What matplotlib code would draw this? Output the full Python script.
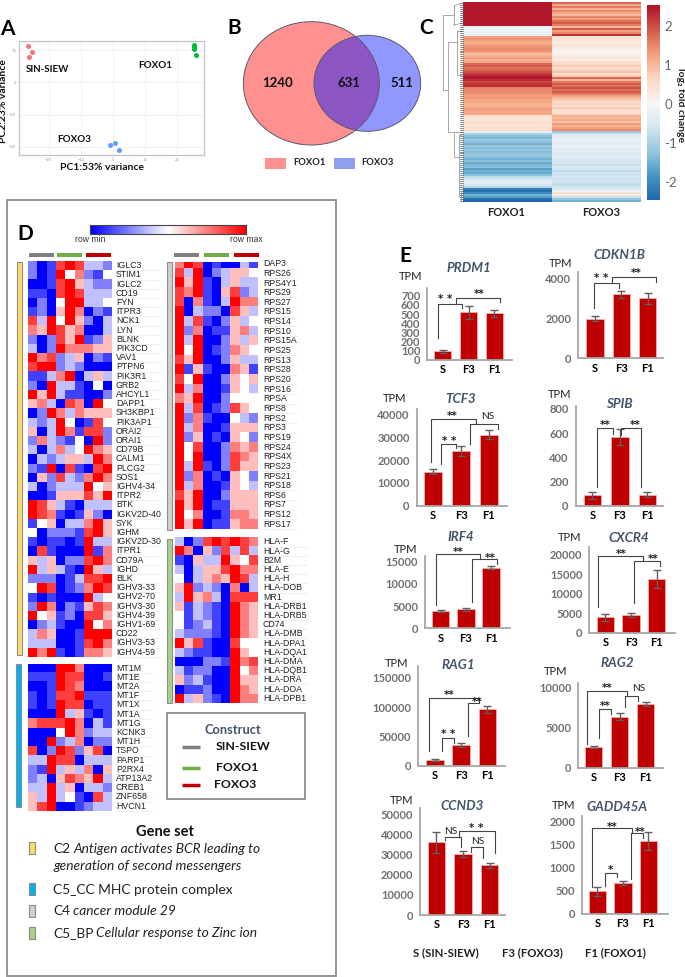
import numpy as np
from matplotlib import pyplot as plt
from matplotlib.patches import Ellipse, Rectangle
from matplotlib.colors import LinearSegmentedColormap

W, H = 685, 977
plt.rcParams["font.family"] = ["Lato", "DejaVu Sans"]

# ---------------- data: A (PCA) ----------------
PCA_SIN_X = [-26.5, -25.2, -26.0]
PCA_SIN_Y = [11.2, 9.5, 7.8]
PCA_F1_X = [25.2, 25.3, 25.3, 25.7]
PCA_F1_Y = [11.5, 11.0, 10.4, 8.5]
PCA_F3_X = [-0.8, 0.5, 2.0]
PCA_F3_Y = [-19.3, -18.9, -21.0]

# ---------------- data: B (venn) ----------------
VENN_COUNTS = ["1240", "631", "511"]

# ---------------- data: C (log2 fold change bands) ----------------
C_FOXO1 = [2.5] * 12 + [-0.2, -0.1, -0.1, -0.2, -0.3] + \
    [1.3, 1.4, 1.2, 1.1, 1.3, 1.4, 1.5, 1.4, 1.2, 1.0, 1.1, 1.3, 1.1, 1.2] + \
    [1.8, 1.9, 1.7, 1.8, 2.0, 2.2, 2.4, 2.5, 2.3, 2.1, 2.2, 2.3] + \
    [1.6, 1.5, 1.5, 1.4, 1.3, 1.3, 1.2, 1.2, 1.1, 1.1, 1.2, 1.3, 1.2, 1.2] + \
    [0.5, 0.4, 0.4, 0.5, 0.4, 0.4, 0.5, 0.6] + [-0.3, -1.0] + \
    [-1.3, -1.4, -1.2, -1.3, -1.5, -1.2, -1.3, -1.2, -1.4, -1.3, -1.2, -1.3, -1.5, -1.3, -1.6, -1.4, -1.3, -1.7, -1.5, -1.6, -1.3] + \
    [-0.8, -0.6, -0.4, -0.3, -0.5, -0.9] + [-2.2, -2.4, -2.0, -1.5, -1.7, -2.4, -2.5]
C_FOXO3 = [1.8, 1.2, 1.6, 1.1, 1.5, 1.2, 1.0, 1.5, 1.3, 1.7, 1.9, 1.6] + \
    [1.0, 1.9, 1.3, 1.5, 2.3] + \
    [0.4, 0.4, 0.3, 0.3, 0.4, 0.3, 0.2, 0.1, 0.05, 0.1, 0.3, 0.4, 0.3, 0.5] + \
    [0.6, 0.8, 0.5, 0.7, 0.9, 0.5, 0.8, 1.8, 1.0, 1.6, 1.9, 1.7] + \
    [2.0, 1.7, 1.9, 1.6, 1.3, 1.0, 0.8, 0.6, 0.7, 0.5, 0.8, 0.6, 0.4, 0.7] + \
    [1.1, 1.0, 1.2, 0.9, 1.3, 1.1, 1.3, 1.5] + [-1.2, -0.6] + \
    [-0.3, -0.3, -0.2, -0.3, -0.4, -0.2, -0.3, -0.4, -0.3, -0.5, -0.4, -0.3, -0.5, -0.6, -0.5, -0.7, -0.5, -0.6, -0.8, -0.6, -0.7] + \
    [-0.6, -0.7, -0.6, -0.7, -0.8, -0.6] + [-0.5, -0.1, 0.5, 0.3, -0.7, -1.2, -1.5]

# ---------------- data: D (row scaled expression, 0 = row min, 8 = row max) ----------------
BCR_GENES = ["IGLC3", "STIM1", "IGLC2", "CD19", "FYN", "ITPR3", "NCK1", "LYN", "BLNK", "PIK3CD", "VAV1",
             "PTPN6", "PIK3R1", "GRB2", "AHCYL1", "DAPP1", "SH3KBP1", "PIK3AP1", "ORAI2", "ORAI1", "CD79B",
             "CALM1", "PLCG2", "SOS1", "IGHV4-34", "ITPR2", "BTK", "IGKV2D-40", "SYK", "IGHM", "IGKV2D-30",
             "ITPR1", "CD79A", "IGHD", "BLK", "IGHV3-33", "IGHV2-70", "IGHV3-30", "IGHV4-39", "IGHV1-69",
             "CD22", "IGHV3-53", "IGHV4-59"]
BCR_ROWS = ["201787332", "201846214", "001785322", "110787333", "020488334", "120586021", "738485203",
            "658756003", "202758125", "302866655", "867235021", "788232000", "113680353", "208331040",
            "858311002", "563076084", "028636555", "323840174", "503861772", "263214082", "303634865",
            "032355386", "218071078", "052732686", "302333845", "001555758", "875310333", "876101520",
            "145033685", "402221785", "101101833", "071000816", "535022786", "835310853", "222013778",
            "487012687", "101000834", "286021576", "845120775", "023100846", "365001888", "333001786",
            "868101665"]

MT_GENES = ["MT1M", "MT1E", "MT2A", "MT1F", "MT1X", "MT1A", "MT1G", "KCNK3", "MT1H", "TSPO", "PARP1",
            "P2RX4", "ATP13A2", "CREB1", "ZNF658", "HVCN1"]
MT_ROWS = ["000886000", "111877001", "001876000", "101778111", "101877011", "000835101", "677786031",
           "000486233", "008236022", "702872570", "338770333", "218353605", "230576583", "338350332",
           "538341073", "578001233"]

RPS_GENES = ["DAP3", "RPS26", "RPS4Y1", "RPS29", "RPS27", "RPS15", "RPS14", "RPS10", "RPS15A", "RPS25",
             "RPS13", "RPS28", "RPS20", "RPS16", "RPSA", "RPS8", "RPS2", "RPS3", "RPS19", "RPS24", "RPS4X",
             "RPS23", "RPS21", "RPS18", "RPS6", "RPS7", "RPS12", "RPS17"]
RPS_ROWS = ["687010031", "738023554", "858103533", "768105723", "706103866", "803220753", "837102534",
            "826011563", "838002535", "848012654", "758002533", "815100651", "748002545", "836001543",
            "658002444", "837012754", "826100432", "836001555", "825010542", "847002656", "848002765",
            "838102755", "826010542", "836001543", "758002555", "858011555", "846001665", "858011566"]

HLA_GENES = ["HLA-F", "HLA-G", "B2M", "HLA-E", "HLA-H", "HLA-DOB", "MR1", "HLA-DRB1", "HLA-DRB5", "CD74",
             "HLA-DMB", "HLA-DPA1", "HLA-DQA1", "HLA-DMA", "HLA-DQB1", "HLA-DRA", "HLA-DOA", "HLA-DPB1"]
HLA_ROWS = ["302787876", "860527373", "105338547", "303557866", "403565873", "582320603", "385630777",
            "513210865", "413210865", "412310865", "322210865", "857100744", "321100854", "000221867",
            "312200846", "523100855", "011200865", "835210866"]

# ---------------- data: E (TPM bars) ----------------
BAR_CATS = ["S", "F3", "F1"]
BAR_GENES = ["PRDM1", "CDKN1B", "TCF3", "SPIB", "IRF4", "CXCR4", "RAG1", "RAG2", "CCND3", "GADD45A"]
BAR_VALUES = [[95, 518, 507], [1980, 3200, 3010], [15000, 24100, 31200], [90, 568, 93], [3900, 4280, 13650],
              [3960, 4480, 13675], [9000, 34800, 96300], [2600, 6370, 7950], [36200, 30200, 24700], [490, 680, 1580]]
BAR_ERRORS = [[15, 70, 35], [130, 170, 280], [1000, 2200, 2000], [29, 65, 22], [300, 400, 300],
              [900, 500, 2350], [1700, 3700, 5700], [125, 420, 230], [5100, 1500, 1300], [90, 45, 190]]
BAR_TICKS = [list(range(0, 701, 100)), [0, 2000, 4000], [0, 10000, 20000, 30000, 40000], [0, 200, 400, 600, 800],
             [0, 5000, 10000, 15000], [0, 5000, 10000, 15000, 20000], [0, 50000, 100000, 150000], [0, 5000, 10000],
             [0, 10000, 20000, 30000, 40000, 50000], [0, 500, 1000, 1500, 2000]]
BAR_YMAX = [779, 4333, 42647, 824, 16275, 22051, 170467, 10540, 53156, 2123]

# layout, in 3x pixels from a panel group origin: origin, x left, x right, y top, y base, first bar, spacing
BAR_LAYOUT = [
    ((355, 225), 217, 472, 190, 405, 263, 77.5),
    ((355, 225), 670, 925, 140, 400, 720, 79),
    ((355, 225), 185, 455, 552, 842, 234, 84),
    ((355, 225), 662, 925, 543, 843, 712, 82.5),
    ((355, 520), 210, 465, 108, 325, 257, 75.5),
    ((355, 520), 703, 960, 80, 338, 751, 77),
    ((355, 520), 190, 450, 438, 737, 240, 78.5),
    ((355, 520), 670, 925, 490, 743, 716, 78),
    ((355, 760), 196, 450, 145, 465, 244, 80),
    ((355, 760), 682, 938, 168, 462, 727, 76.5),
]
BAR_TITLE_POS = [(343, 128), (793, 90), (318, 523), (793, 538), (316, 50), (822, 55), (310, 436), (788, 430), (321, 138), (785, 140)]
BAR_TPM_POS = [(168, 155), (617, 115), (118, 521), (615, 508), (153, 88), (645, 53), (124, 430), (603, 455), (139, 122), (625, 137)]

BRACKETS = [
    ((355, 225), [(248, 340), (248, 237), (320, 237), (320, 250)]),
    ((355, 225), [(302, 237), (302, 220), (435, 220), (435, 232)]),
    ((355, 225), [(717, 248), (717, 173), (792, 173), (792, 190)]),
    ((355, 225), [(770, 173), (770, 156), (903, 156), (903, 170)]),
    ((355, 225), [(229, 712), (229, 583), (362, 583), (362, 597)]),
    ((355, 225), [(257, 716), (257, 657), (304, 657), (304, 670)]),
    ((355, 225), [(344, 657), (344, 598), (429, 598), (429, 612)]),
    ((355, 225), [(725, 785), (725, 610), (775, 610), (775, 628)]),
    ((355, 225), [(797, 630), (797, 610), (859, 610), (859, 787)]),
    ((355, 520), [(242, 255), (242, 102), (375, 102), (375, 115)]),
    ((355, 520), [(350, 245), (350, 118), (425, 118), (425, 133)]),
    ((355, 520), [(730, 260), (730, 107), (865, 107), (865, 120)]),
    ((355, 520), [(838, 250), (838, 122), (915, 122), (915, 138)]),
    ((355, 520), [(222, 693), (222, 535), (372, 535), (372, 548)]),
    ((355, 520), [(260, 693), (260, 655), (297, 655), (297, 668)]),
    ((355, 520), [(338, 648), (338, 550), (372, 550)]),
    ((355, 520), [(695, 672), (695, 512), (815, 512), (815, 527)]),
    ((355, 520), [(733, 655), (733, 566), (768, 566), (768, 582)]),
    ((355, 520), [(811, 562), (811, 527), (848, 527), (848, 542)]),
    ((355, 760), [(270, 240), (270, 230), (317, 230), (317, 262)]),
    ((355, 760), [(313, 230), (313, 212), (421, 212), (421, 278)]),
    ((355, 760), [(348, 275), (348, 261), (385, 261), (385, 295)]),
    ((355, 760), [(711, 380), (711, 205), (832, 205), (832, 218)]),
    ((355, 760), [(750, 378), (750, 338), (786, 338), (786, 352)]),
    ((355, 760), [(827, 358), (827, 220), (864, 220), (864, 235)]),
]
SIG_LABELS = [
    ((355, 225), 270, 217, "* *"), ((355, 225), 373, 200, "**"), ((355, 225), 740, 152, "* *"), ((355, 225), 843, 137, "**"),
    ((355, 225), 292, 568, "**"), ((355, 225), 283, 642, "* *"), ((355, 225), 398, 575, "NS"),
    ((355, 225), 752, 595, "**"), ((355, 225), 840, 595, "**"),
    ((355, 520), 309, 90, "**"), ((355, 520), 406, 107, "**"), ((355, 520), 798, 95, "**"), ((355, 520), 895, 112, "**"),
    ((355, 520), 284, 520, "**"), ((355, 520), 280, 637, "* *"), ((355, 520), 367, 540, "**"),
    ((355, 520), 757, 497, "**"), ((355, 520), 751, 552, "**"), ((355, 520), 850, 505, "NS"),
    ((355, 760), 287, 213, "NS"), ((355, 760), 365, 197, "* *"), ((355, 760), 367, 243, "NS"),
    ((355, 760), 773, 194, "**"), ((355, 760), 767, 324, "*"), ((355, 760), 856, 210, "**"),
]

GRAY, GREEN, RED = "#7f7f7f", "#70ad47", "#c00000"
SLATE = "#44546a"


def px_axes(x0, y0, x1, y1):
    return fig.add_axes([x0 / W, 1 - y1 / H, (x1 - x0) / W, (y1 - y0) / H])


def zoomed(origin, x, y):
    return origin[0] + x / 3, origin[1] + y / 3


def heat_block(rows, genes, x0, x1, top, row_h, label_x, sep_end, clip=0):
    data = np.array([[int(c) for c in r] for r in rows])
    n = len(rows)
    ax = px_axes(x0, top + clip, x1, top + n * row_h)
    ax.imshow(data, cmap="bwr", vmin=0, vmax=8, aspect="auto", interpolation="nearest")
    ax.set_ylim(n - 0.5, -0.5 + clip / row_h)
    ax.axis("off")
    for i, g in enumerate(genes):
        yc = top + (i + 0.5) * row_h
        ov.text(label_x, yc, g, family="Liberation Sans", fontsize=6.3, color="#222222", va="center", ha="left")
        ov.plot([label_x, sep_end], [yc + row_h / 2, yc + row_h / 2], color="#e8e8e8", lw=0.5)


def mixed_text(x, y, plain, italic):
    t = ov.text(x, y, plain, fontsize=9.9, color="#222222", va="center", ha="left")
    if italic:
        ext = t.get_window_extent(renderer)
        ov.text(ext.x1 + 3, y, italic, fontsize=9.9, color="#222222", style="italic", va="center", ha="left")


fig = plt.figure(figsize=(W / 100, H / 100), dpi=100)
renderer = fig.canvas.get_renderer()
ov = fig.add_axes([0, 0, 1, 1], zorder=10)
ov.set_xlim(0, W)
ov.set_ylim(H, 0)
ov.axis("off")
ov.patch.set_alpha(0)

for letter, lx, ly in [("A", 7, 29), ("B", 234, 28), ("C", 426, 28), ("D", 25, 234), ("E", 405, 256)]:
    ov.text(lx, ly, letter, fontsize=15, fontweight="bold", ha="center", va="center", color="black")

# ---------------- A ----------------
ax = px_axes(19, 41, 204, 155)
ax.scatter(PCA_SIN_X, PCA_SIN_Y, s=13, color="#F8766D", linewidths=0)
ax.scatter(PCA_F1_X, PCA_F1_Y, s=13, color="#00BA38", linewidths=0)
ax.scatter(PCA_F3_X, PCA_F3_Y, s=13, color="#619CFF", linewidths=0)
ax.set_xlim(-29.2, 28.3)
ax.set_ylim(-22.5, 12.8)
ax.set_xticks([-20, -10, 0, 10, 20])
ax.set_yticks([-20, -10, 0, 10])
ax.grid(True, color="#ececec", lw=0.5)
ax.set_axisbelow(True)
ax.tick_params(labelsize=3, length=1, width=0.4, pad=1, colors="#999999")
for s in ax.spines.values():
    s.set_color("#c4c4c4")
    s.set_linewidth(0.9)
ov.text(47, 70, "SIN-SIEW", fontsize=7, fontweight="bold", ha="center", va="center", color="#111111")
ov.text(155, 65, "FOXO1", fontsize=7.1, fontweight="bold", ha="center", va="center", color="#111111")
ov.text(74, 140, "FOXO3", fontsize=7.1, fontweight="bold", ha="center", va="center", color="#111111")
ov.text(102, 168, "PC1:53% variance", fontsize=7.5, fontweight="bold", ha="center", va="center", color="#111111")
ov.text(4, 101, "PC2:23% variance", fontsize=7.5, fontweight="bold", ha="center", va="center", rotation=90, color="#111111")

# ---------------- B ----------------
OB = (215, 0)
c1 = zoomed(OB, 289, 250)
c3 = zoomed(OB, 457, 250)
e3 = Ellipse(c3, 320 / 3, 288 / 3, facecolor="#9097ff", edgecolor="none", zorder=1)
e1 = Ellipse(c1, 408 / 3, 370 / 3, facecolor="#ff9090", edgecolor="none", zorder=2)
ov.add_patch(e3)
ov.add_patch(e1)
overlap = Ellipse(c3, 320 / 3, 288 / 3, facecolor="#8c55c4", edgecolor="none", zorder=3)
ov.add_patch(overlap)
overlap.set_clip_path(e1)
ov.add_patch(Ellipse(c1, 408 / 3, 370 / 3, facecolor="none", edgecolor="#5a5a6a", lw=0.7, zorder=4))
ov.add_patch(Ellipse(c3, 320 / 3, 288 / 3, facecolor="none", edgecolor="#5a5a6a", lw=0.7, zorder=4))
for count, zx in zip(VENN_COUNTS, [189, 402, 561]):
    x, y = zoomed(OB, zx, 248)
    ov.text(x, y, count, fontsize=9.5, fontweight="bold", ha="center", va="center", color="#111111", zorder=5)
ov.add_patch(Rectangle(zoomed(OB, 150, 473), 21, 11, facecolor="#ff9090", edgecolor="none"))
ov.add_patch(Rectangle(zoomed(OB, 358, 473), 21, 11, facecolor="#8f9ff0", edgecolor="none"))
ov.text(*zoomed(OB, 236, 488), "FOXO1", fontsize=6.8, fontweight="bold", ha="left", va="center", color="#222222")
ov.text(*zoomed(OB, 440, 488), "FOXO3", fontsize=6.8, fontweight="bold", ha="left", va="center", color="#222222")

# ---------------- C ----------------
cmap_c = LinearSegmentedColormap.from_list(
    "fc", ["#2166ac", "#4393c3", "#92c5de", "#d1e5f0", "#f7f7f7", "#fddbc7", "#f4a582", "#d6604d", "#b2182b"])
ax = px_axes(463, 2, 641, 202)
ax.imshow(np.array([C_FOXO1, C_FOXO3]).T, cmap=cmap_c, vmin=-2.5, vmax=2.5, aspect="auto", interpolation="nearest")
ax.axis("off")
cax = px_axes(647, 5, 660, 200)
grad = np.linspace(2.55, -2.45, 200).reshape(-1, 1)
cax.imshow(grad, cmap=cmap_c, vmin=-2.5, vmax=2.5, aspect="auto", extent=[0, 1, -2.45, 2.55])
cax.set_xticks([])
cax.yaxis.tick_right()
cax.set_yticks([-2, -1, 0, 1, 2], ["-2", "-1", "0", "1", "2"])
cax.tick_params(length=0, labelsize=9.5, labelcolor="#666666", pad=3)
for s in cax.spines.values():
    s.set_visible(False)
ov.text(681, 105, "log₂ fold change", fontsize=7.5, fontweight="bold", rotation=270, ha="center", va="center", color="#222222")
ov.text(506, 213, "FOXO1", fontsize=8, fontweight="bold", ha="center", va="center", color="#222222")
ov.text(601, 213, "FOXO3", fontsize=8, fontweight="bold", ha="center", va="center", color="#222222")

# dendrogram of panel C
OC = (410, 0)
DENDRO = [
    [(132, 18), (132, 45), (98, 45), (98, 270), (115, 270)],
    [(132, 18), (153, 10)], [(132, 75), (153, 70)], [(132, 18), (132, 75)],
    [(140, 127), (115, 127), (115, 395), (132, 395)],
    [(140, 92), (140, 225), (153, 225)], [(140, 92), (153, 92)],
    [(132, 395), (132, 470), (146, 470)], [(132, 395), (153, 395)],
    [(146, 405), (146, 560), (153, 560)], [(146, 405), (153, 405)],
    [(153, 575), (153, 600)], [(146, 560), (146, 590), (153, 590)],
]
for seg in DENDRO:
    pts = [zoomed(OC, x, y) for x, y in seg]
    ov.plot([p[0] for p in pts], [p[1] for p in pts], color="#9a9a9a", lw=0.6, zorder=2)
for i in range(len(C_FOXO1)):
    y = 2 + (i + 0.5) * 200 / len(C_FOXO1)
    ov.plot([460.5, 463], [y, y], color="#555555", lw=0.5)

# ---------------- D ----------------
ov.add_patch(Rectangle((7, 200), 329, 776, facecolor="none", edgecolor="#8c8c8c", lw=1.3))
bar_ax = px_axes(90, 224.5, 246, 234)
bar_ax.imshow(np.linspace(0, 1, 256).reshape(1, -1), cmap="bwr", aspect="auto")
bar_ax.set_xticks([])
bar_ax.set_yticks([])
for s in bar_ax.spines.values():
    s.set_color("#444444")
    s.set_linewidth(0.8)
ov.text(90, 240, "row min", family="Liberation Sans", fontsize=6.2, ha="center", va="center", color="#333333")
ov.text(246, 240, "row max", family="Liberation Sans", fontsize=6.2, ha="center", va="center", color="#333333")
for x0, col in [(29, GRAY), (57.5, GREEN), (86, RED), (174, GRAY), (204, GREEN), (234, RED)]:
    ov.add_patch(Rectangle((x0, 252.5), 25, 4, facecolor=col, edgecolor="none"))

heat_block(BCR_ROWS, BCR_GENES, 28, 111.5, 261.1, 9.2, 116, 160)
heat_block(MT_ROWS, MT_GENES, 27.5, 111, 663.5, 9.2, 116, 152)
heat_block(RPS_ROWS, RPS_GENES, 175, 258, 258.9, 9.65, 263, 297, clip=3)
heat_block(HLA_ROWS, HLA_GENES, 175, 258, 537.4, 9.19, 263, 307)

for x0, y0, x1, y1, col in [(17, 262, 22, 655, "#ffd966"), (16.5, 664, 21.5, 807, "#00b0f0"),
                            (167, 262, 172, 530, "#d0cece"), (167, 539, 172, 703, "#a9d18e")]:
    ov.add_patch(Rectangle((x0, y0), x1 - x0, y1 - y0, facecolor=col, edgecolor="#8c8c8c", lw=0.8))

ov.add_patch(Rectangle((167, 713), 138, 86, facecolor="white", edgecolor="#8c8c8c", lw=1.3))
ov.text(233, 730, "Construct", fontsize=9.3, fontweight="bold", color=SLATE, ha="center", va="center")
for y, col, name, tx in [(747, GRAY, "SIN-SIEW", 216), (768, GREEN, "FOXO1", 216), (785, RED, "FOXO3", 214)]:
    ov.plot([182, 200], [y, y], color=col, lw=2.5, solid_capstyle="butt")
    ov.text(tx, y - 0.5, name, fontsize=8.8, fontweight="bold", color="#111111", ha="left", va="center")

ov.text(165, 832, "Gene set", fontsize=10.5, fontweight="bold", color="#111111", ha="center", va="center")
for y0, col in [(842, "#ffd966"), (883, "#00b0f0"), (905, "#d0cece"), (927, "#a9d18e")]:
    ov.add_patch(Rectangle((29, y0), 6.5, 12, facecolor=col, edgecolor="#8c8c8c", lw=0.8))
mixed_text(53, 849, "C2", "Antigen activates BCR leading to")
ov.text(53, 866, "generation of second messengers", fontsize=9.9, style="italic", color="#222222", va="center", ha="left")
mixed_text(53, 890, "C5_CC MHC protein complex", "")
mixed_text(53, 911, "C4", "cancer module 29")
mixed_text(53, 933, "C5_BP", "Cellular response to Zinc ion")

# ---------------- E ----------------
for i, gene in enumerate(BAR_GENES):
    origin, xl, xr, ytop, ybase, first, step = BAR_LAYOUT[i]
    x0, y0 = zoomed(origin, xl, ytop)
    x1, y1 = zoomed(origin, xr, ybase)
    ax = px_axes(x0, y0, x1, y1)
    ax.patch.set_alpha(0)
    ax.bar(range(3), BAR_VALUES[i], width=52 / step, color=RED, edgecolor="#f2b8b8", linewidth=0.5)
    ax.errorbar(range(3), BAR_VALUES[i], yerr=BAR_ERRORS[i], fmt="none", ecolor="#5f5f5f", elinewidth=1.0, capsize=2.6, capthick=1.0)
    ax.set_xlim((xl - first) / step, (xr - first) / step)
    ax.set_ylim(0, BAR_YMAX[i])
    ax.set_xticks(range(3), BAR_CATS)
    ax.set_yticks(BAR_TICKS[i])
    ax.tick_params(axis="x", length=0, labelsize=8, pad=3)
    ax.tick_params(axis="y", length=0, labelsize=8, pad=5, labelcolor="#6f6f6f")
    for lab in ax.get_xticklabels() + ax.get_yticklabels():
        lab.set_fontweight("bold")
    ax.spines["top"].set_visible(False)
    ax.spines["right"].set_visible(False)
    ax.spines["left"].set_color("#a6a6a6")
    ax.spines["bottom"].set_color("#a6a6a6")
    ax.spines["left"].set_linewidth(1.3)
    ax.spines["bottom"].set_linewidth(1.3)
    tx, ty = zoomed(origin, *BAR_TITLE_POS[i])
    ov.text(tx, ty, gene, fontsize=9.6, fontweight="bold", style="italic", color=SLATE, ha="center", va="center")
    tx, ty = zoomed(origin, *BAR_TPM_POS[i])
    ov.text(tx, ty, "TPM", fontsize=8, color="#222222", ha="center", va="center")

for origin, seg in BRACKETS:
    pts = [zoomed(origin, x, y) for x, y in seg]
    ov.plot([p[0] for p in pts], [p[1] for p in pts], color="#444444", lw=0.8, solid_joinstyle="round")
for origin, zx, zy, label in SIG_LABELS:
    x, y = zoomed(origin, zx, zy)
    if "*" in label:
        ov.text(x, y + 2, label, family="DejaVu Sans", fontsize=7.5, color="#222222", ha="center", va="center", fontweight="bold")
    else:
        ov.text(x, y, label, fontsize=7.3, color="#222222", ha="center", va="center")

for lx, label in [(173, "S (SIN-SIEW)"), (440, "F3 (FOXO3)"), (690, "F1 (FOXO1)")]:
    x, y = zoomed((355, 760), lx, 577)
    ov.text(x, y, label, fontsize=8.2, fontweight="bold", color="#222222", ha="left", va="center")

fig.savefig("out.png", dpi=100)
plt.close()
